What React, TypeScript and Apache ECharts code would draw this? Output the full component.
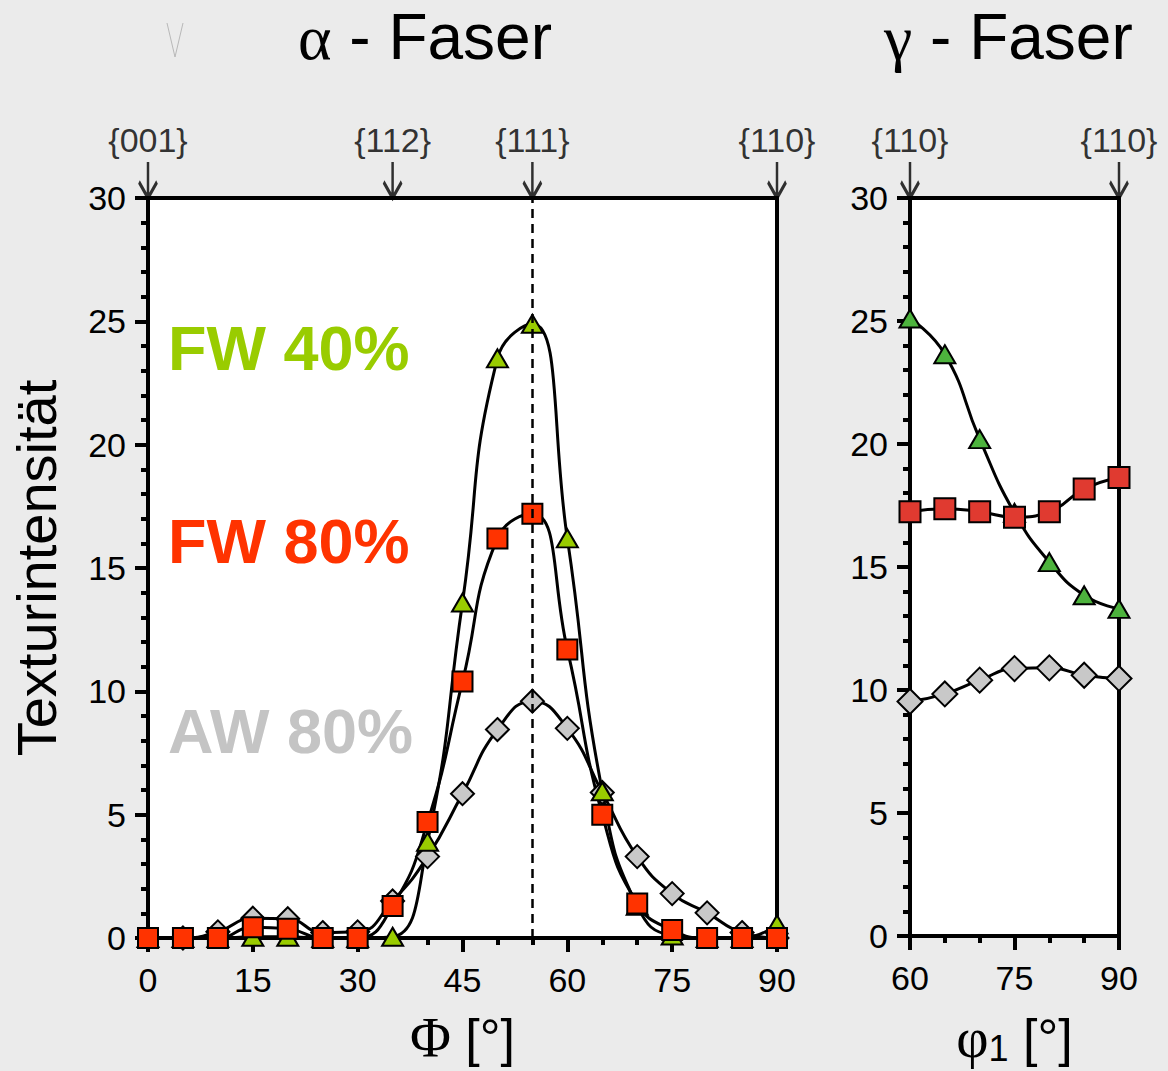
import React, { useEffect, useRef } from "react";
import * as echarts from "echarts";

// α-fibre: intensity vs Φ
const phiAlpha = [0, 5, 10, 15, 20, 25, 30, 35, 40, 45, 50, 55, 60, 65, 70, 75, 80, 85, 90];
const fw40Alpha = [0, 0, 0, 0.05, 0.05, 0, 0, 0.05, 3.9, 13.6, 23.5, 24.9, 16.2, 5.95, 1.3, 0.1, 0, 0, 0.55];
const fw80Alpha = [0, 0, 0, 0.44, 0.38, 0, 0, 1.3, 4.7, 10.4, 16.2, 17.2, 11.7, 5.0, 1.4, 0.32, 0, 0, 0];
const aw80Alpha = [0, 0, 0.25, 0.8, 0.78, 0.22, 0.25, 1.5, 3.3, 5.85, 8.45, 9.6, 8.5, 5.9, 3.3, 1.8, 1.02, 0.22, 0];

// γ-fibre: intensity vs φ1
const phi1Gamma = [60, 65, 70, 75, 80, 85, 90];
const fw40Gamma = [25.1, 23.65, 20.2, 17.2, 15.2, 13.85, 13.3];
const fw80Gamma = [17.25, 17.37, 17.25, 17.02, 17.25, 18.17, 18.64];
const aw80Gamma = [9.53, 9.84, 10.4, 10.87, 10.9, 10.6, 10.47];

// orientation markers on the top edge
const alphaOrient = [0, 35, 55, 90];
const alphaOrientLabels = ["{001}", "{112}", "{111}", "{110}"];
const gammaOrient = [60, 90];
const gammaOrientLabels = ["{110}", "{110}"];

const SANS = "Arial, 'Liberation Sans', Helvetica, sans-serif";
const SERIF = "'Liberation Serif', 'Times New Roman', serif";

const pair = (xs: number[], ys: number[]) => xs.map((x, i) => [x, ys[i]]);

const ARROW = "path://M9,0 L9,36 M0,20 L9,36 L18,20";

function xAxisCfg(gridIndex: number, min: number, max: number, name: any) {
  return {
    type: "value",
    gridIndex,
    min,
    max,
    interval: 15,
    position: "bottom",
    axisLine: { show: true, onZero: false, lineStyle: { color: "#000", width: 4 } },
    axisTick: { show: true, inside: false, length: 14, lineStyle: { color: "#000", width: 4 } },
    minorTick: { show: true, splitNumber: 3, length: 7, lineStyle: { color: "#000", width: 4 } },
    splitLine: { show: false },
    axisLabel: { color: "#000", fontSize: 34, fontFamily: SANS, margin: 25 },
    ...name,
  };
}

function yAxisCfg(gridIndex: number, name: any) {
  return {
    type: "value",
    gridIndex,
    min: 0,
    max: 30,
    interval: 5,
    axisLine: { show: true, lineStyle: { color: "#000", width: 4 } },
    axisTick: { show: true, inside: false, length: 13, lineStyle: { color: "#000", width: 4 } },
    minorTick: { show: true, splitNumber: 5, length: 7, lineStyle: { color: "#000", width: 4 } },
    splitLine: { show: false },
    axisLabel: { color: "#000", fontSize: 34, fontFamily: SANS, margin: 22 },
    ...name,
  };
}

function curve(name: string, gi: number, data: number[][], symbol: string, size: any, color: string, extra: any = {}) {
  return {
    name,
    type: "line",
    xAxisIndex: gi,
    yAxisIndex: gi,
    data,
    smooth: 0.5,
    clip: false,
    symbol,
    symbolSize: size,
    showAllSymbol: true,
    lineStyle: { color: "#000", width: 3 },
    itemStyle: { color, borderColor: "#000", borderWidth: 2 },
    ...extra,
  };
}

function orientMarks(gi: number, xs: number[], labels: string[]) {
  return {
    type: "scatter",
    xAxisIndex: gi,
    yAxisIndex: gi,
    data: xs.map((x) => [x, 30]),
    clip: false,
    silent: true,
    symbol: ARROW,
    symbolSize: [18, 36],
    symbolOffset: [0, "-50%"],
    itemStyle: { color: "rgba(0,0,0,0)", borderColor: "#000", borderWidth: 3.5 },
    label: {
      show: true,
      position: "top",
      distance: 3,
      color: "#000",
      fontSize: 34,
      fontFamily: SANS,
      formatter: (p: any) => labels[p.dataIndex],
    },
    z: 4,
  };
}

export default function App() {
  const ref = useRef<HTMLDivElement>(null);

  useEffect(() => {
    if (!ref.current) return;
    const chart = echarts.init(ref.current, null, { renderer: "svg" });

    const option: any = {
      animation: false,
      backgroundColor: "#ebebeb",
      grid: [
        { left: 146, top: 198, width: 631, height: 743, show: true, backgroundColor: "#fff", borderColor: "#000", borderWidth: 4 },
        { left: 910, top: 198, width: 209, height: 743, show: true, backgroundColor: "#fff", borderColor: "#000", borderWidth: 4 },
      ],
      xAxis: [
        xAxisCfg(0, 0, 90, {
          name: "{s|Φ} [°]",
          nameLocation: "middle",
          nameGap: 72,
          nameTextStyle: {
            color: "#000",
            fontSize: 52,
            fontFamily: SANS,
            rich: { s: { fontFamily: SERIF, fontSize: 56, color: "#000" } },
          },
        }),
        xAxisCfg(1, 60, 90, {
          name: "{s|φ}{sub|1} [°]",
          nameLocation: "middle",
          nameGap: 74,
          nameTextStyle: {
            color: "#000",
            fontSize: 52,
            fontFamily: SANS,
            rich: {
              s: { fontFamily: SERIF, fontSize: 56, color: "#000" },
              sub: { fontFamily: SANS, fontSize: 36, color: "#000", padding: [20, 0, 0, 0] },
            },
          },
        }),
      ],
      yAxis: [
        yAxisCfg(0, {
          name: "Texturintensität",
          nameLocation: "middle",
          nameGap: 84,
          nameTextStyle: { color: "#000", fontSize: 56, fontFamily: SANS },
        }),
        yAxisCfg(1, {}),
      ],
      graphic: [
        {
          type: "polyline",
          shape: { points: [[167, 23], [175, 57], [183, 23]] },
          style: { stroke: "#b8b8b8", lineWidth: 1, fill: "none" },
        },
        {
          type: "text",
          x: 298,
          y: 37,
          style: {
            text: "{a|α} - Faser",
            fill: "#000",
            fontSize: 64,
            fontFamily: SANS,
            verticalAlign: "middle",
            rich: { a: { fontFamily: SERIF, fontSize: 64, fill: "#000" } },
          },
        },
        {
          type: "text",
          x: 884,
          y: 37,
          style: {
            text: "{a|γ} - Faser",
            fill: "#000",
            fontSize: 64,
            fontFamily: SANS,
            verticalAlign: "middle",
            rich: { a: { fontFamily: SERIF, fontSize: 64, fill: "#000" } },
          },
        },
        {
          type: "text",
          x: 168,
          y: 348,
          style: { text: "FW 40%", fill: "#99cc00", font: `bold 63px ${SANS}`, verticalAlign: "middle" },
        },
        {
          type: "text",
          x: 168,
          y: 541,
          style: { text: "FW 80%", fill: "#ff3300", font: `bold 63px ${SANS}`, verticalAlign: "middle" },
        },
        {
          type: "text",
          x: 168,
          y: 731,
          style: { text: "AW 80%", fill: "#c4c4c4", font: `bold 63px ${SANS}`, verticalAlign: "middle" },
        },
      ],
      series: [
        curve("AW 80%", 0, pair(phiAlpha, aw80Alpha), "diamond", 23, "#c8c8c8"),
        curve("FW 40%", 0, pair(phiAlpha, fw40Alpha), "triangle", [21, 18], "#99cc00"),
        curve("FW 80%", 0, pair(phiAlpha, fw80Alpha), "rect", 20, "#ff3300", {
          markLine: {
            silent: true,
            symbol: "none",
            z: 6,
            label: { show: false },
            lineStyle: { color: "#000", width: 2.5, type: [9, 6] },
            data: [{ xAxis: 55 }],
          },
        }),
        curve("AW 80% γ", 1, pair(phi1Gamma, aw80Gamma), "diamond", 25, "#c8c8c8"),
        curve("FW 40% γ", 1, pair(phi1Gamma, fw40Gamma), "triangle", [21, 18], "#4db33d"),
        curve("FW 80% γ", 1, pair(phi1Gamma, fw80Gamma), "rect", 21, "#e03a30"),
        orientMarks(0, alphaOrient, alphaOrientLabels),
        orientMarks(1, gammaOrient, gammaOrientLabels),
      ],
    };

    chart.setOption(option);
    return () => chart.dispose();
  }, []);

  return (
    <div
      ref={ref}
      style={{ position: "absolute", left: 0, top: 0, width: 1168, height: 1071 }}
    />
  );
}
